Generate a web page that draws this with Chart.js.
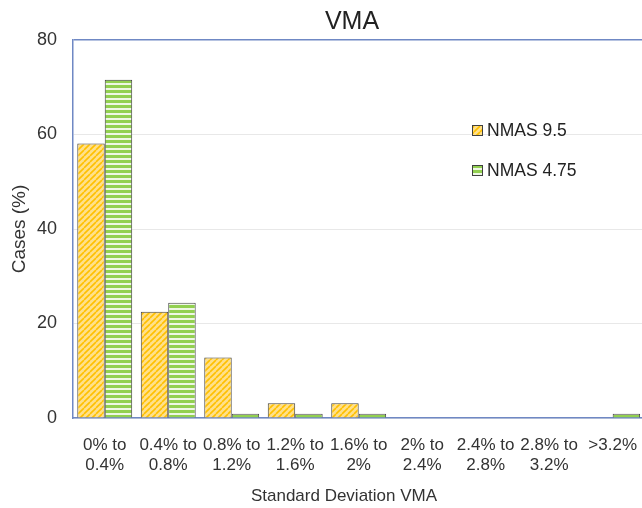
<!DOCTYPE html>
<html>
<head>
<meta charset="utf-8">
<script src="https://cdn.jsdelivr.net/npm/chart.js@4.4.1/dist/chart.umd.min.js"></script>
<style>
  html, body { margin: 0; padding: 0; background: #fff; overflow: hidden; }
  #wrap { width: 642px; height: 508px; position: relative; overflow: hidden; }
  #chartVMA { display: block; }
</style>
</head>
<body>
<div id="wrap"><canvas id="chartVMA" width="646" height="508"></canvas></div>
<script>
// Datos
const categories = [
  ["0% to", "0.4%"], ["0.4% to", "0.8%"], ["0.8% to", "1.2%"], ["1.2% to", "1.6%"],
  ["1.6% to", "2%"], ["2% to", "2.4%"], ["2.4% to", "2.8%"], ["2.8% to", "3.2%"], [">3.2%"]
];
const nmas95 = [58.1, 22.5, 12.8, 3.1, 3.1, 0, 0, 0, 0];
const nmas475 = [71.6, 24.4, 0.9, 0.9, 0.9, 0, 0, 0, 0.9];
const yTicks = [0, 20, 40, 60, 80];

(function () {
  const FONT = "'Liberation Sans', Arial, sans-serif";
  const BLUE = "#6f88c4";
  const TXT = "#333";

  // Patrones de relleno
  const hatchYellow = () => {
    const c = document.createElement("canvas");
    c.width = 6; c.height = 6;
    const g = c.getContext("2d");
    g.fillStyle = "#ffe08a";
    g.fillRect(0, 0, 6, 6);
    g.strokeStyle = "#ffc000";
    g.lineWidth = 1.6;
    g.beginPath();
    for (let k = -6; k <= 12; k += 6) {
      g.moveTo(k, 6); g.lineTo(k + 6, 0);
    }
    g.stroke();
    return g.createPattern(c, "repeat");
  };
  const stripesGreen = () => {
    const c = document.createElement("canvas");
    c.width = 4; c.height = 5;
    const g = c.getContext("2d");
    g.fillStyle = "#92d050";
    g.fillRect(0, 0, 4, 5);
    g.fillStyle = "#eef7e4";
    g.fillRect(0, 3, 4, 2);
    return g.createPattern(c, "repeat");
  };

  const pYellow = hatchYellow();
  const pGreen = stripesGreen();

  // Títulos y leyenda dibujados a mano (posición como en el original)
  const textPlugin = {
    id: "manualText",
    afterDraw(chart) {
      const ctx = chart.ctx;
      ctx.save();
      ctx.textAlign = "center";
      ctx.textBaseline = "alphabetic";
      ctx.fillStyle = "#222";
      ctx.font = "25px " + FONT;
      ctx.fillText("VMA", 352, 29);
      ctx.fillStyle = TXT;
      ctx.font = "17px " + FONT;
      ctx.fillText("Standard Deviation VMA", 344, 501);

      const items = [
        { text: "NMAS 9.5", fill: pYellow, y: 130.5 },
        { text: "NMAS 4.75", fill: pGreen, y: 170.5 },
      ];
      ctx.textAlign = "left";
      ctx.textBaseline = "middle";
      ctx.font = "17.5px " + FONT;
      items.forEach((it) => {
        ctx.fillStyle = it.fill;
        ctx.fillRect(472, it.y - 5.5, 11, 11);
        ctx.strokeStyle = "#404040";
        ctx.lineWidth = 1;
        ctx.strokeRect(472.5, it.y - 5, 10, 10);
        ctx.fillStyle = "#222";
        ctx.fillText(it.text, 487, it.y + 1);
      });
      ctx.restore();
    },
  };

  new Chart(document.getElementById("chartVMA").getContext("2d"), {
    type: "bar",
    data: {
      labels: categories,
      datasets: [
        {
          label: "NMAS 9.5",
          data: nmas95,
          backgroundColor: pYellow,
          borderColor: "#404040",
          borderWidth: 1,
          categoryPercentage: 0.865,
          barPercentage: 1.0,
        },
        {
          label: "NMAS 4.75",
          data: nmas475,
          backgroundColor: pGreen,
          borderColor: "#404040",
          borderWidth: 1,
          categoryPercentage: 0.865,
          barPercentage: 1.0,
        },
      ],
    },
    options: {
      responsive: false,
      animation: false,
      layout: { padding: { top: 40, left: 0, right: 0, bottom: 0 } },
      plugins: {
        legend: { display: false },
        tooltip: { enabled: false },
        title: { display: false },
      },
      scales: {
        x: {
          afterFit: (scale) => { scale.height = 90; },
          grid: { display: false },
          border: { color: BLUE, width: 1.5 },
          ticks: {
            color: TXT,
            font: { family: FONT, size: 17 },
            maxRotation: 0,
            autoSkip: false,
            padding: 9,
          },
        },
        y: {
          min: 0,
          max: 80,
          afterFit: (scale) => { scale.width = 73; },
          afterBuildTicks: (scale) => {
            scale.ticks = yTicks.map((v) => ({ value: v }));
          },
          grid: {
            color: (c) => (c.tick && c.tick.value === 80 ? BLUE : "#e8e8e8"),
            lineWidth: (c) => (c.tick && c.tick.value === 80 ? 1.5 : 1),
            drawTicks: false,
          },
          border: { color: BLUE, width: 1.5 },
          ticks: {
            color: TXT,
            font: { family: FONT, size: 18 },
            padding: 16,
          },
          title: {
            display: true,
            text: "Cases (%)",
            color: TXT,
            font: { family: FONT, size: 19 },
            padding: { top: 8, bottom: 4 },
          },
        },
      },
    },
    plugins: [textPlugin],
  });
})();
</script>
</body>
</html>
